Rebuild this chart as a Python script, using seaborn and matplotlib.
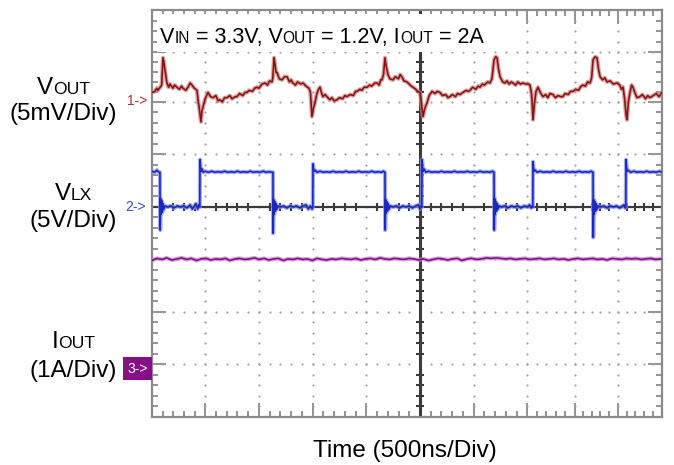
import numpy as np
import pandas as pd
import matplotlib
matplotlib.use("Agg")
import matplotlib.pyplot as plt
import matplotlib.patches as mpatches
from matplotlib.transforms import IdentityTransform
import seaborn as sns

# ---------------- data (read from the scope capture) ----------------
# time in ns (500 ns/div), trigger/centre at 0
vout_points = [  # (t ns, ripple mV, AC coupled)
    (-2495, 0.9), (-2470, 1.0), (-2450, 1.3), (-2440, 1.1), (-2405, 1.6), (-2393, 4.2),
    (-2384, 3.8), (-2374, 3.0), (-2356, 1.8), (-2340, 1.4), (-2328, 1.7), (-2300, 1.3),
    (-2285, 1.6), (-2263, 1.4), (-2240, 1.2), (-2220, 1.5), (-2207, 1.3), (-2180, 1.1),
    (-2160, 1.4), (-2140, 1.8), (-2123, 1.6), (-2100, 1.3), (-2076, 1.1), (-2067, 0.2),
    (-2055, -0.6), (-2039, -1.9), (-2030, -0.9), (-2021, -0.5), (-2000, 0.3), (-1974, 0.9),
    (-1950, 0.5), (-1927, 0.4), (-1900, 0.6), (-1880, 0.1), (-1862, 0.2), (-1840, 0.0),
    (-1820, 0.4), (-1797, 0.4), (-1770, 0.6), (-1750, 0.3), (-1720, 0.5), (-1704, 0.5),
    (-1680, 0.8), (-1650, 0.6), (-1630, 0.9), (-1611, 0.9), (-1590, 1.1), (-1560, 1.0),
    (-1540, 1.3), (-1518, 1.4), (-1500, 1.3), (-1470, 1.7), (-1443, 1.8), (-1420, 1.6),
    (-1400, 2.0), (-1378, 1.9), (-1370, 2.3), (-1359, 4.2), (-1350, 3.6), (-1340, 2.8),
    (-1331, 2.8), (-1310, 2.2), (-1285, 2.1), (-1260, 2.4), (-1238, 2.4), (-1215, 1.9),
    (-1200, 2.1), (-1183, 1.8), (-1160, 1.6), (-1140, 1.9), (-1110, 1.7), (-1089, 1.8),
    (-1060, 1.5), (-1034, 1.3), (-1020, 0.9), (-1006, -1.4), (-992, -0.6), (-978, -0.1),
    (-960, 0.8), (-945, 1.2), (-931, 1.4), (-915, 0.8), (-903, 0.5), (-885, 0.7),
    (-866, 0.5), (-840, 0.2), (-820, 0.4), (-800, 0.1), (-773, 0.2), (-750, 0.4),
    (-720, 0.3), (-700, 0.6), (-680, 0.5), (-650, 0.7), (-620, 0.6), (-600, 1.0),
    (-587, 1.0), (-560, 1.2), (-540, 1.1), (-520, 1.4), (-493, 1.4), (-470, 1.6),
    (-450, 1.5), (-420, 1.8), (-400, 1.8), (-380, 1.6), (-365, 2.1), (-354, 2.1),
    (-340, 2.6), (-326, 4.2), (-315, 3.4), (-298, 2.6), (-280, 2.2), (-251, 2.1),
    (-230, 2.4), (-200, 2.2), (-185, 2.6), (-168, 2.4), (-150, 2.0), (-121, 1.9),
    (-100, 1.7), (-80, 1.5), (-65, 1.4), (-40, 1.2), (-20, 1.0), (0, 0.9),
    (10, 0.2), (28, -1.4), (45, -0.6), (65, -0.1), (85, 0.6), (112, 1.0),
    (140, 0.8), (160, 1.0), (186, 0.9), (210, 0.6), (240, 0.7), (260, 0.4),
    (279, 0.5), (300, 0.7), (330, 0.5), (350, 0.8), (372, 0.7), (400, 0.9),
    (430, 1.1), (450, 1.0), (466, 1.1), (490, 1.4), (520, 1.2), (540, 1.5),
    (559, 1.4), (580, 1.7), (600, 1.6), (630, 1.9), (652, 1.8), (670, 2.2),
    (689, 4.0), (705, 4.3), (717, 4.2), (730, 3.2), (745, 2.4), (770, 1.9),
    (791, 1.8), (810, 2.0), (830, 1.7), (850, 1.9), (866, 1.8), (890, 1.6),
    (910, 1.9), (935, 1.7), (959, 1.8), (985, 1.7), (1010, 1.7), (1024, 1.6),
    (1035, 1.0), (1043, 0.2), (1052, -1.7), (1065, -0.2), (1080, 1.0), (1099, 1.4),
    (1120, 0.9), (1145, 0.5), (1170, 0.7), (1190, 0.4), (1210, 0.8), (1238, 0.7),
    (1260, 0.4), (1285, 0.6), (1310, 0.5), (1331, 0.5), (1350, 0.8), (1380, 0.7),
    (1400, 1.0), (1425, 1.0), (1450, 1.2), (1475, 1.1), (1500, 1.5), (1518, 1.6),
    (1540, 1.5), (1560, 1.9), (1583, 1.8), (1598, 2.3), (1611, 4.0), (1630, 4.3),
    (1648, 4.2), (1662, 3.1), (1676, 2.4), (1700, 2.1), (1720, 2.3), (1741, 1.9),
    (1770, 2.0), (1800, 1.7), (1834, 1.8), (1860, 1.6), (1875, 1.2), (1890, 1.4),
    (1905, 0.3), (1918, -1.2), (1927, -1.7), (1940, 0.0), (1955, 0.9), (1970, 1.6),
    (1983, 1.4), (2000, 0.9), (2020, 0.4), (2048, 0.5), (2070, 0.7), (2100, 0.3),
    (2120, 0.6), (2141, 0.4), (2170, 0.6), (2200, 0.8), (2225, 0.5), (2253, 0.9),
]

vlx_points = [  # (t ns, switch-node voltage V)
    (-2495, 3.4), (-2470, 3.3), (-2450, 3.5), (-2430, 3.3),
    (-2421, 3.3), (-2419, -2.2), (-2415, 0.8), (-2410, -0.7), (-2405, 0.6), (-2399, -0.5),
    (-2393, 0.3), (-2385, -0.2), (-2375, 0.1),
    (-2350, 0.0), (-2320, 0.1), (-2290, -0.1), (-2260, 0.1), (-2230, 0.0), (-2200, 0.1),
    (-2170, -0.1), (-2140, 0.2), (-2120, -0.2), (-2100, 0.1), (-2085, 0.3), (-2070, -0.2),
    (-2060, 0.2), (-2050, 0.0),
    (-2048, 4.5), (-2043, 3.8), (-2036, 3.4), (-2028, 3.6), (-2018, 3.3), (-2000, 3.4),
    (-1970, 3.3), (-1940, 3.4), (-1910, 3.3), (-1880, 3.35), (-1850, 3.3), (-1820, 3.4),
    (-1790, 3.3), (-1760, 3.35), (-1730, 3.3), (-1700, 3.4), (-1670, 3.3), (-1640, 3.35),
    (-1610, 3.3), (-1580, 3.4), (-1550, 3.3), (-1520, 3.35), (-1490, 3.3), (-1460, 3.4),
    (-1430, 3.3), (-1400, 3.35), (-1380, 3.3),
    (-1369, 3.3), (-1367, -2.5), (-1363, 0.7), (-1358, -0.7), (-1352, 0.5), (-1346, -0.4),
    (-1340, 0.3), (-1332, -0.2), (-1322, 0.1),
    (-1300, 0.0), (-1270, 0.1), (-1240, -0.1), (-1210, 0.1), (-1180, 0.0), (-1150, 0.1),
    (-1120, -0.1), (-1090, 0.1), (-1060, 0.2), (-1040, -0.2), (-1020, 0.1), (-1005, -0.2),
    (-998, 0.0),
    (-996, 4.1), (-991, 3.6), (-985, 3.4), (-975, 3.5), (-960, 3.3), (-930, 3.4),
    (-900, 3.3), (-870, 3.35), (-840, 3.3), (-810, 3.4), (-780, 3.3), (-750, 3.35),
    (-720, 3.3), (-690, 3.4), (-660, 3.3), (-630, 3.35), (-600, 3.3), (-570, 3.4),
    (-540, 3.3), (-510, 3.35), (-480, 3.3), (-450, 3.4), (-420, 3.3), (-390, 3.35),
    (-360, 3.3), (-340, 3.4), (-330, 3.3),
    (-326, 3.3), (-324, -2.2), (-320, 0.7), (-315, -0.6), (-309, 0.5), (-303, -0.4),
    (-296, 0.3), (-288, -0.2), (-278, 0.1),
    (-250, 0.0), (-220, 0.1), (-190, -0.1), (-160, 0.1), (-130, 0.0), (-100, 0.1),
    (-70, -0.1), (-40, 0.1), (-15, 0.2), (0, -0.2), (10, 0.1), (17, 0.0),
    (19, 4.5), (24, 3.8), (30, 3.4), (40, 3.6), (55, 3.3), (80, 3.4), (110, 3.3),
    (140, 3.35), (170, 3.3), (200, 3.4), (230, 3.3), (260, 3.35), (290, 3.3), (320, 3.4),
    (350, 3.3), (380, 3.35), (410, 3.3), (440, 3.4), (470, 3.3), (500, 3.35), (530, 3.3),
    (560, 3.4), (590, 3.3), (620, 3.35), (650, 3.3), (675, 3.4), (685, 3.3),
    (689, 3.3), (691, -2.2), (695, 0.8), (700, -0.7), (706, 0.5), (712, -0.4),
    (719, 0.3), (727, -0.2), (737, 0.1),
    (760, 0.0), (790, 0.1), (820, -0.1), (850, 0.1), (880, 0.0), (910, 0.1), (940, -0.1),
    (970, 0.1), (1000, 0.0), (1020, 0.2), (1035, -0.1), (1045, 0.1), (1050, 0.0),
    (1052, 4.3), (1057, 3.7), (1063, 3.4), (1073, 3.5), (1090, 3.3), (1120, 3.4),
    (1150, 3.3), (1180, 3.35), (1210, 3.3), (1240, 3.4), (1270, 3.3), (1300, 3.35),
    (1330, 3.3), (1360, 3.4), (1390, 3.3), (1420, 3.35), (1450, 3.3), (1480, 3.4),
    (1510, 3.3), (1540, 3.35), (1570, 3.3), (1595, 3.4), (1607, 3.3),
    (1611, 3.3), (1613, -2.9), (1617, 0.7), (1622, -0.7), (1628, 0.5), (1634, -0.4),
    (1641, 0.3), (1649, -0.2), (1659, 0.1),
    (1680, 0.0), (1710, 0.1), (1740, -0.1), (1770, 0.1), (1800, 0.0), (1830, 0.1),
    (1860, -0.1), (1885, 0.1), (1900, 0.2), (1910, -0.1), (1916, 0.0),
    (1918, 4.5), (1923, 3.8), (1929, 3.4), (1940, 3.5), (1960, 3.3), (1990, 3.4),
    (2020, 3.3), (2050, 3.35), (2080, 3.3), (2110, 3.4), (2140, 3.3), (2170, 3.35),
    (2200, 3.3), (2230, 3.4), (2253, 3.3),
]

iout_points = [  # (t ns, output current A)
    (-2495, 1.98), (-2450, 2.02), (-2400, 2.00), (-2360, 2.03), (-2310, 1.99), (-2260, 2.01),
    (-2220, 2.03), (-2170, 2.00), (-2130, 2.02), (-2080, 1.98), (-2040, 2.01), (-1990, 2.02),
    (-1950, 1.99), (-1900, 2.01), (-1860, 2.00), (-1810, 2.02), (-1770, 1.98), (-1720, 2.01),
    (-1680, 2.02), (-1630, 2.00), (-1590, 2.01), (-1540, 2.03), (-1500, 2.00), (-1450, 2.02),
    (-1410, 1.99), (-1360, 2.01), (-1320, 2.02), (-1270, 1.98), (-1230, 2.01), (-1180, 2.00),
    (-1140, 2.02), (-1090, 2.00), (-1050, 2.01), (-1000, 1.98), (-960, 2.02), (-910, 2.00),
    (-870, 1.99), (-820, 2.01), (-780, 2.00), (-730, 2.02), (-690, 2.01), (-640, 2.00),
    (-600, 2.02), (-550, 1.99), (-510, 2.01), (-460, 2.02), (-420, 2.00), (-370, 2.03),
    (-330, 2.01), (-280, 2.00), (-240, 2.02), (-190, 2.01), (-150, 2.00), (-100, 2.02),
    (-60, 2.01), (-10, 1.99), (30, 2.01), (80, 1.98), (120, 2.00), (170, 2.02),
    (210, 2.01), (260, 1.99), (300, 2.01), (350, 2.02), (390, 1.98), (440, 2.01),
    (480, 2.02), (530, 2.00), (570, 2.01), (620, 2.03), (660, 2.02), (710, 2.03),
    (750, 2.02), (800, 2.01), (840, 2.02), (890, 2.00), (930, 2.01), (980, 2.02),
    (1020, 2.00), (1070, 2.01), (1110, 2.02), (1160, 2.00), (1200, 2.01), (1250, 2.02),
    (1290, 2.00), (1340, 2.01), (1380, 1.99), (1430, 2.01), (1470, 2.02), (1520, 2.00),
    (1560, 2.01), (1610, 2.02), (1650, 2.00), (1700, 2.01), (1740, 1.99), (1790, 2.02),
    (1830, 2.01), (1880, 2.00), (1920, 2.02), (1970, 2.01), (2010, 2.02), (2060, 2.00),
    (2100, 2.01), (2150, 2.02), (2190, 2.00), (2253, 2.01),
]

title_parts = [("V", "big"), ("IN", "small"), (" = 3.3V, V", "big"), ("OUT", "small"),
               (" = 1.2V, I", "big"), ("OUT", "small"), (" = 2A", "big")]
channel_labels = [
    ([("V", "big"), ("OUT", "small")], "(5mV/Div)"),
    ([("V", "big"), ("LX", "small")], "(5V/Div)"),
    ([("I", "big"), ("OUT", "small")], "(1A/Div)"),
]
x_label = "Time (500ns/Div)"

# ---------------- styling / layout ----------------
sns.set_theme(style="white")
plt.rcParams["font.family"] = ["Liberation Sans", "DejaVu Sans"]
plt.rcParams["text.color"] = "black"

W, H = 674, 465
fig = plt.figure(figsize=(W / 100, H / 100), dpi=100)
fig.patch.set_facecolor("white")
ax = fig.add_axes([152 / W, (H - 417) / H, (662 - 152) / W, (417 - 10) / H])

XMIN, XMAX = -2495, 2253
YMIN, YMAX = -4.0, 3.75
x_grid = [-2000, -1500, -1000, -500, 0, 500, 1000, 1440, 1840]
y_grid = [-3, -2, -1, 0, 1, 2, 2.95]

def subdiv(edges):
    out = []
    for a, b in zip(edges[:-1], edges[1:]):
        out.extend(np.linspace(a, b, 6)[1:-1])
    return out

x_minor = subdiv([XMIN] + x_grid + [XMAX])
y_minor = subdiv([YMIN] + y_grid[:-1]) + list(np.linspace(2.0, 2.95, 6)[1:-1]) + [3.15, 3.35, 3.55]

# dotted graticule
dot_c = "#a0a0a0"
for gx in x_grid:
    if gx == 0:
        continue
    ys = sorted(y_minor + y_grid)
    ax.scatter([gx] * len(ys), ys, s=2.5, color=dot_c, linewidths=0, zorder=1)
for gy in y_grid:
    if gy == 0:
        continue
    xs = sorted(x_minor + x_grid)
    ax.scatter(xs, [gy] * len(xs), s=2.5, color=dot_c, linewidths=0, zorder=1)

# centre cross-hair with tick marks
cross_c = "#3a3a3a"
ax.axvline(0, color=cross_c, lw=2.2, zorder=2)
ax.axhline(0, color=cross_c, lw=1.6, zorder=2)
ax.plot(x_minor, [0] * len(x_minor), ls="none", marker="|", ms=6, mew=1.5, color=cross_c, zorder=2)
ax.plot([0] * len(y_minor), y_minor, ls="none", marker="_", ms=6, mew=1.5, color=cross_c, zorder=2)

# traces (channel offsets in divisions)
CH1_OFF, CH1_SCALE = 2.0, 5.0    # mV/div
CH2_OFF, CH2_SCALE = 0.0, 5.0    # V/div
CH3_OFF, CH3_SCALE = -3.0, 1.0   # A/div

vout = pd.DataFrame(vout_points, columns=["t", "val"])
vout["div"] = CH1_OFF + vout["val"] / CH1_SCALE
vlx = pd.DataFrame(vlx_points, columns=["t", "val"])
vlx["div"] = CH2_OFF + vlx["val"] / CH2_SCALE
iout = pd.DataFrame(iout_points, columns=["t", "val"])
iout["div"] = CH3_OFF + iout["val"] / CH3_SCALE

traces = [
    (vout, "#8e1212", "#c98a8a"),
    (vlx, "#1a28c2", "#8c93e0"),
    (iout, "#85118a", "#c48cc7"),
]
for df, core, halo in traces:
    sns.lineplot(data=df, x="t", y="div", sort=False, estimator=None, ax=ax,
                 color=halo, lw=3.0, alpha=0.75, zorder=3)
    sns.lineplot(data=df, x="t", y="div", sort=False, estimator=None, ax=ax,
                 color=core, lw=1.2, zorder=4)

ax.set_xlim(XMIN, XMAX)
ax.set_ylim(YMIN, YMAX)
ax.set_xticks(x_grid)
ax.set_xticks(x_minor, minor=True)
ax.set_yticks(y_grid)
ax.set_yticks(y_minor, minor=True)
ax.tick_params(which="both", direction="in", top=True, right=True, bottom=True, left=True,
               labelbottom=False, labelleft=False, color="#808080")
ax.tick_params(which="major", length=10, width=1.2)
ax.tick_params(which="minor", length=4.5, width=1.2)
ax.set_xlabel("")
ax.set_ylabel("")
for sp in ax.spines.values():
    sp.set_color("#8a8a8a")
    sp.set_linewidth(1.6)

# white backing behind the in-graticule title (hides grid/cross-hair there)
fig.add_artist(mpatches.Rectangle((157, H - 52), 333, 38, transform=IdentityTransform(),
                                  facecolor="white", edgecolor="none", zorder=5))

# ---------------- text ----------------
renderer = fig.canvas.get_renderer()
IDT = IdentityTransform()

def rich(parts, x, base_px, ha, big, small, color="black"):
    objs = []
    for s, kind in parts:
        fs = big if kind == "big" else small
        objs.append(fig.text(0, H - base_px, s, fontsize=fs, va="baseline", ha="left",
                             transform=IDT, color=color, zorder=6))
    widths = [o.get_window_extent(renderer).width for o in objs]
    total = sum(widths)
    x0 = x if ha == "left" else (x - total / 2 if ha == "center" else x - total)
    for o, w in zip(objs, widths):
        o.set_x(x0)
        x0 += w
    return total

# in-graticule title
rich(title_parts, 160, 43, "left", 15.5, 11.2)

# left channel labels
BIG, SMALL = 17.5, 12.6
label_rows = [(94, 120), (200, 227), (348, 377)]
for (first, second), (b1, b2) in zip(channel_labels, label_rows):
    t2 = fig.text(117, H - b2, second, fontsize=BIG, va="baseline", ha="right",
                  transform=IDT, color="black")
    w2 = t2.get_window_extent(renderer).width
    rich(first, 117 - w2 / 2, b1, "center", BIG, SMALL)

# x label
fig.text(405, H - 457, x_label, fontsize=17.5, va="baseline", ha="center",
         transform=IDT, color="black")

# channel markers
fig.text(137, H - 101, "1->", fontsize=10, color="#a83232", ha="center", va="center",
         transform=IDT)
fig.text(136, H - 207, "2->", fontsize=10, color="#3a46c8", ha="center", va="center",
         transform=IDT)
fig.add_artist(mpatches.Rectangle((123, H - 380), 29, 23, transform=IDT,
                                  facecolor="#850f87", edgecolor="none"))
fig.text(137.5, H - 368.5, "3->", fontsize=10, color="white", ha="center", va="center",
         transform=IDT)

fig.savefig("out.png", dpi=100, facecolor="white")
